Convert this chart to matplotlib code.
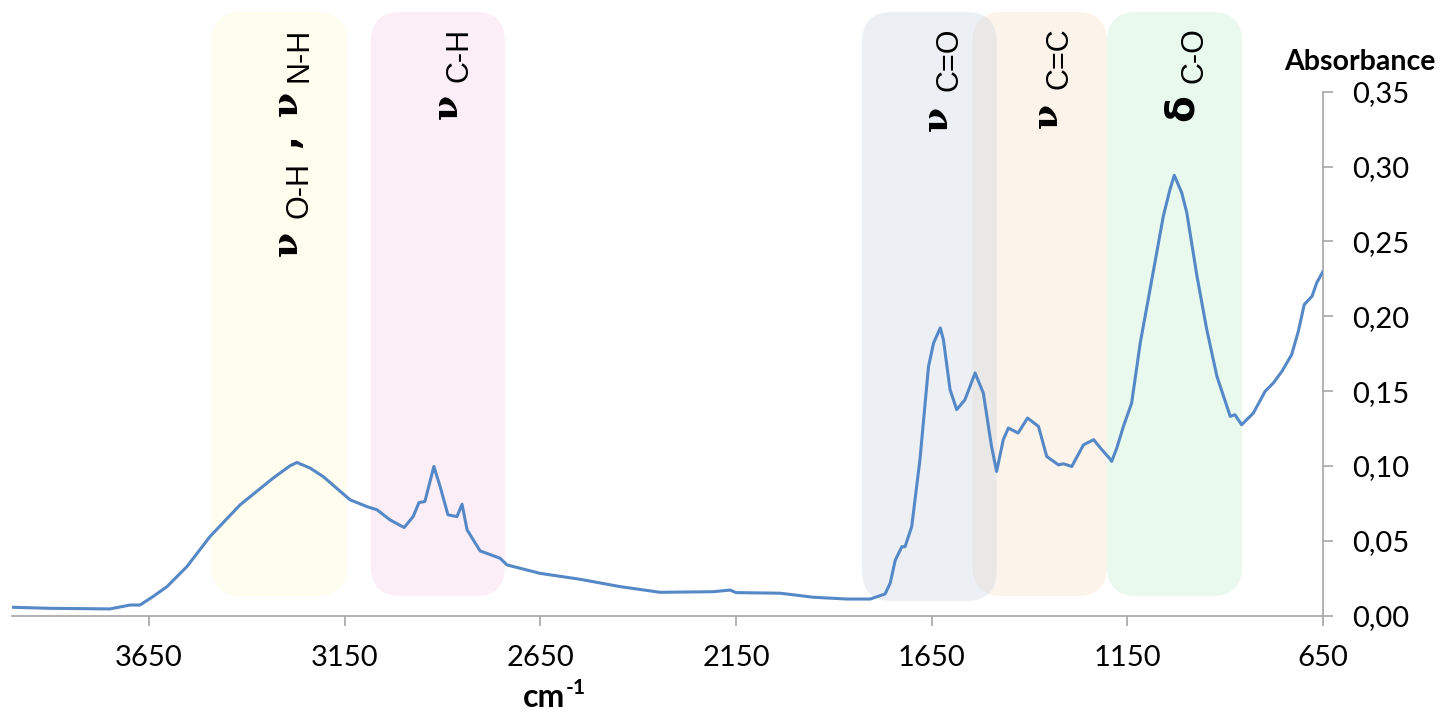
import matplotlib
matplotlib.use('Agg')
import matplotlib.pyplot as plt
from matplotlib.patches import FancyBboxPatch

plt.rcParams['font.family'] = ['Lato', 'DejaVu Sans']

# spectre IR (nombre d'onde en cm-1, absorbance)
wavenumber = [4000, 3903, 3750, 3698, 3673, 3640, 3604, 3553, 3494, 3417,
              3333, 3290, 3272, 3238, 3205, 3136, 3093, 3067, 3034, 2998,
              2975, 2960, 2945, 2922, 2906, 2886, 2863, 2850, 2837, 2804,
              2753, 2735, 2651, 2548, 2446, 2344, 2209, 2165, 2150, 2037,
              1953, 1866, 1807, 1769, 1756, 1743, 1726, 1718, 1701, 1680,
              1658, 1645, 1628, 1620, 1603, 1586, 1565, 1539, 1518, 1497,
              1484, 1467, 1454, 1429, 1405, 1377, 1356, 1326, 1313, 1292,
              1262, 1236, 1215, 1194, 1190, 1177, 1160, 1139, 1117, 1092,
              1075, 1058, 1041, 1030, 1011, 998, 972, 947, 921, 887,
              875, 858, 828, 798, 777, 755, 730, 713, 698, 678,
              666, 651]
absorbance = [0.0055, 0.0048, 0.0044, 0.0070, 0.0070, 0.0126, 0.0193, 0.0327, 0.0528, 0.0740,
              0.0918, 0.1000, 0.1023, 0.0985, 0.0929, 0.0773, 0.0728, 0.0706, 0.0639, 0.0588,
              0.0661, 0.0755, 0.0762, 0.0996, 0.0862, 0.0673, 0.0661, 0.0744, 0.0572, 0.0432,
              0.0383, 0.0338, 0.0282, 0.0242, 0.0193, 0.0155, 0.0159, 0.0170, 0.0153, 0.0149,
              0.0122, 0.0110, 0.0110, 0.0144, 0.0216, 0.0370, 0.0460, 0.0460, 0.0594, 0.1040,
              0.1665, 0.1822, 0.1922, 0.1844, 0.1510, 0.1376, 0.1442, 0.1621, 0.1487, 0.1130,
              0.0963, 0.1175, 0.1253, 0.1220, 0.1320, 0.1264, 0.1063, 0.1007, 0.1014, 0.0996,
              0.1141, 0.1175, 0.1108, 0.1046, 0.1030, 0.1119, 0.1264, 0.1420, 0.1822, 0.2179,
              0.2424, 0.2670, 0.2848, 0.2942, 0.2826, 0.2692, 0.2268, 0.1911, 0.1598, 0.1331,
              0.1342, 0.1275, 0.1353, 0.1498, 0.1554, 0.1632, 0.1744, 0.1900, 0.2078, 0.2134,
              0.2224, 0.2295]

xticks = [3650, 3150, 2650, 2150, 1650, 1150, 650]
yticks = [0.00, 0.05, 0.10, 0.15, 0.20, 0.25, 0.30, 0.35]
ytick_labels = ['0,00', '0,05', '0,10', '0,15', '0,20', '0,25', '0,30', '0,35']

# bandes d'absorption
band_start = [3490, 3083, 1546, 1202, 1828]
band_end = [3145, 2740, 1202, 857, 1484]
band_bottom = [0.013, 0.013, 0.013, 0.013, 0.0097]
band_colors = ['#FEFDEE', '#FBEEF7', '#FCF3EA', '#E9F9EE', '#C8D4E0']
band_alpha = [1, 1, 1, 1, 0.33]

# étiquettes des bandes (texte, x, y, type)
label_text = ['ν', 'O-H', ',', 'ν', 'N-H', 'ν', 'C-H', 'ν', 'C=O', 'ν', 'C=C', 'δ', 'C-O']
label_x = [3272, 3246, 3272, 3272, 3246, 2863, 2837, 1610, 1585, 1329, 1304, 984, 959]
label_y = [0.2403, 0.2657, 0.3125, 0.3339, 0.393, 0.3319, 0.393, 0.3239, 0.393, 0.3259, 0.393, 0.3306, 0.393]
label_kind = ['g', 's0', 'c', 'g', 's', 'g', 's', 'g', 's', 'g', 's', 'd', 's']

ytop = 0.4034
fig = plt.figure(figsize=(14.43, 7.10), dpi=100)
ax = fig.add_axes([12 / 1443, 94.5 / 710, 1311 / 1443, 603.5 / 710])
ax.set_xlim(4000, 650)
ax.set_ylim(0, ytop)

# rapport d'aspect pour arrondir les coins en pixels
sx = 1311 / 3350
sy = 603.5 / ytop
r = 30 / sx
for i in range(len(band_start)):
    x0 = min(band_start[i], band_end[i])
    w = abs(band_start[i] - band_end[i])
    p = FancyBboxPatch((x0, band_bottom[i]), w, ytop - band_bottom[i],
                       boxstyle=f"round,pad=0,rounding_size={r}",
                       mutation_aspect=sx / sy, facecolor=band_colors[i],
                       alpha=band_alpha[i], edgecolor='none', zorder=1, clip_on=False)
    ax.add_patch(p)

ax.plot(wavenumber, absorbance, color='#5588C6', lw=2.2, zorder=3)

for t, x, y, k in zip(label_text, label_x, label_y, label_kind):
    kw = dict(rotation=90, rotation_mode='anchor', va='baseline', zorder=4)
    if k == 'g':
        ax.text(x, y, t, ha='left', fontsize=26, fontweight='bold', family='DejaVu Serif', **kw)
    elif k == 'c':
        ax.text(x, y, t, ha='left', fontsize=26, fontweight='bold', family='DejaVu Sans', **kw)
    elif k == 'd':
        ax.text(x, y, t, ha='left', fontsize=28, fontweight='bold', family='DejaVu Sans', **kw)
    elif k == 's0':
        ax.text(x, y, t, ha='left', fontsize=22, family='Liberation Sans', **kw)
    else:
        ax.text(x, y, t, ha='right', fontsize=22, family='Liberation Sans', **kw)

for s in ['top', 'left']:
    ax.spines[s].set_visible(False)
ax.spines['right'].set_bounds(0, 0.35)
ax.spines['right'].set_color('#A6A6A6')
ax.spines['bottom'].set_color('#A6A6A6')
ax.spines['right'].set_linewidth(1.2)
ax.spines['bottom'].set_linewidth(1.2)
ax.yaxis.tick_right()
ax.set_xticks(xticks)
ax.set_xticklabels([str(v) for v in xticks])
ax.set_yticks(yticks)
ax.set_yticklabels(ytick_labels)
ax.tick_params(axis='both', direction='out', length=7, width=1.2, color='#A6A6A6',
               labelsize=21, pad=14)
ax.patch.set_visible(False)

fig.text(1360 / 1443, 1 - 70 / 710, 'Absorbance', ha='center', va='baseline',
         fontsize=20.5, fontweight='bold')
fig.text(523 / 1443, 1 - 707 / 710, 'cm', ha='left', va='baseline',
         fontsize=23, fontweight='bold')
fig.text(566 / 1443, 1 - 694 / 710, '-1', ha='left', va='baseline',
         fontsize=15, fontweight='bold')

fig.savefig('out.png', dpi=100, facecolor='white')
